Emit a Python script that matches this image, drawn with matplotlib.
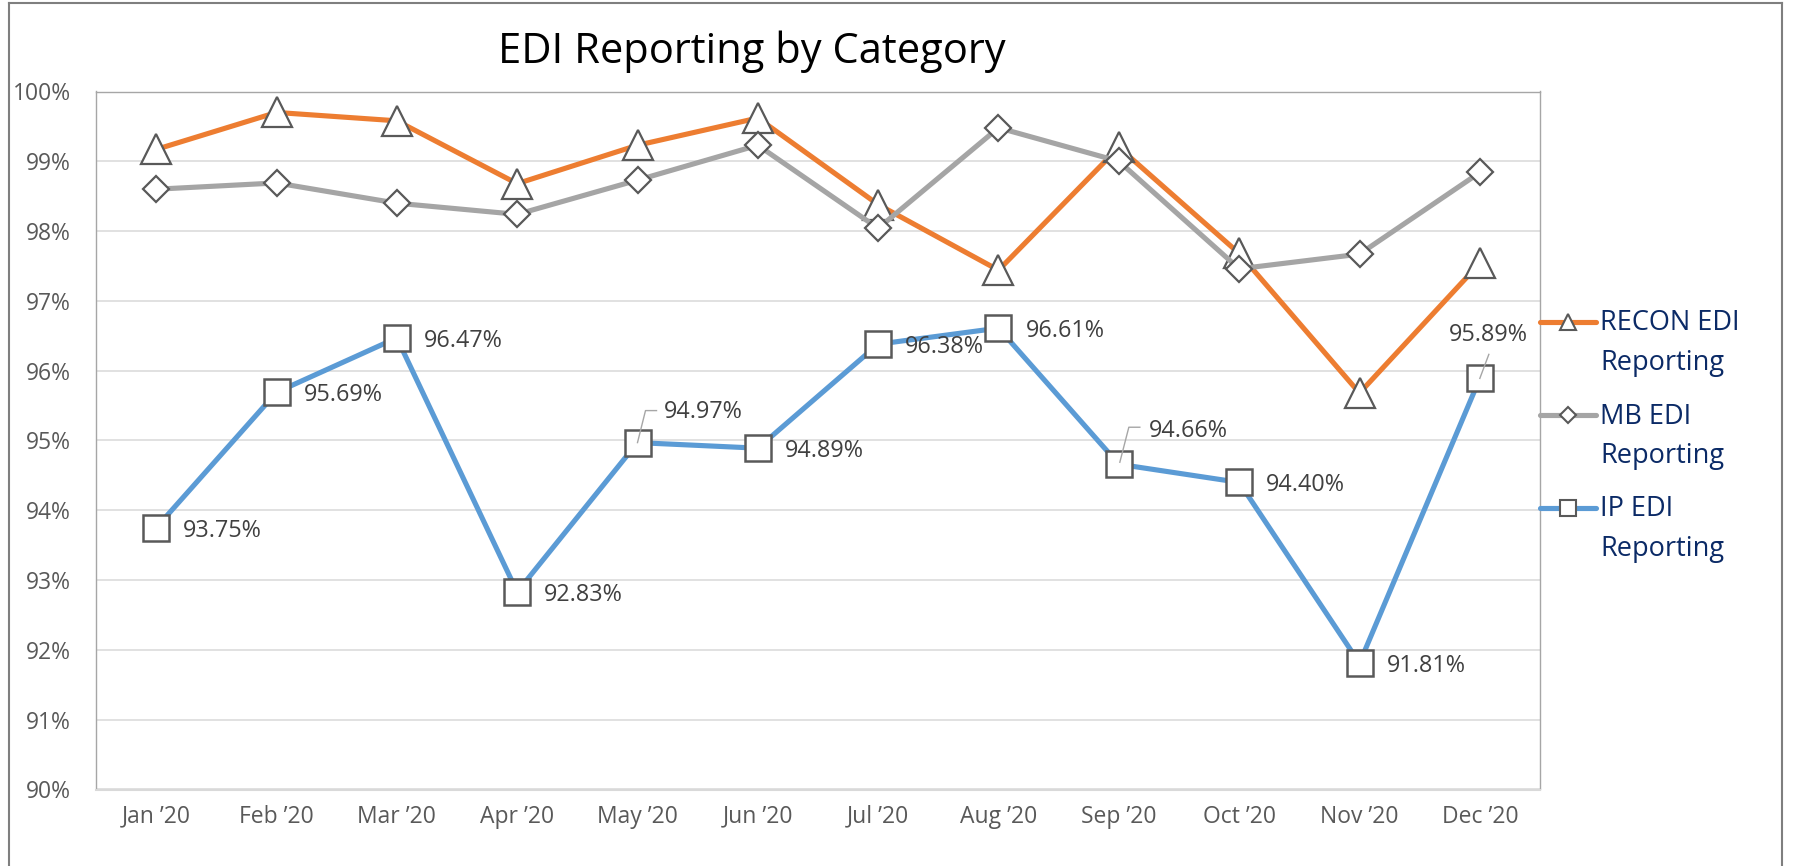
import matplotlib
matplotlib.use('Agg')
import matplotlib.pyplot as plt
from matplotlib.lines import Line2D
from matplotlib.transforms import IdentityTransform

plt.rcParams['font.family'] = ['Open Sans', 'DejaVu Sans']

# ---------------- data ----------------
months = ["Jan \u201920", "Feb \u201920", "Mar \u201920", "Apr \u201920", "May \u201920", "Jun \u201920",
          "Jul \u201920", "Aug \u201920", "Sep \u201920", "Oct \u201920", "Nov \u201920", "Dec \u201920"]
recon = [99.17, 99.70, 99.58, 98.68, 99.23, 99.62, 98.38, 97.44, 99.20, 97.68, 95.68, 97.54]
mb = [98.60, 98.69, 98.40, 98.24, 98.73, 99.23, 98.04, 99.48, 99.00, 97.46, 97.67, 98.84]
ip = [93.75, 95.69, 96.47, 92.83, 94.97, 94.89, 96.38, 96.61, 94.66, 94.40, 91.81, 95.89]
series_names = [["RECON EDI", "Reporting"], ["MB EDI", "Reporting"], ["IP EDI", "Reporting"]]
y_ticks = [90, 91, 92, 93, 94, 95, 96, 97, 98, 99, 100]
title = "EDI Reporting by Category"

# ---------------- styles ----------------
W, H = 1795, 866
C_RECON, C_MB, C_IP = '#ED7D31', '#A5A5A5', '#5B9BD5'
MEC = '#595959'
TICK_C = '#595959'
LABEL_C = '#404040'
LEG_C = '#0B2A66'
LW = 3.7

fig = plt.figure(figsize=(W / 100, H / 100), dpi=100)
fig.patch.set_facecolor('white')

L, R, T, B = 96, 1540, 91.5, 789.5
ax = fig.add_axes([L / W, 1 - B / H, (R - L) / W, (B - T) / H])
x = list(range(len(months)))
ax.set_xlim(-0.5, len(months) - 0.5)
ax.set_ylim(y_ticks[0], y_ticks[-1])
ax.set_yticks(y_ticks)
ax.set_yticklabels([f"{t}%" for t in y_ticks])
ax.set_xticks(x)
ax.set_xticklabels(months)
ax.tick_params(axis='both', length=0, labelsize=16.5, labelcolor=TICK_C)
ax.tick_params(axis='y', pad=18)
ax.tick_params(axis='x', pad=11)
ax.grid(axis='y', color='#D9D9D9', lw=1.1)
ax.set_axisbelow(True)
for s in ['left', 'top', 'right']:
    ax.spines[s].set_color('#A6A6A6')
    ax.spines[s].set_linewidth(1.0)
ax.spines['bottom'].set_color('#D9D9D9')
ax.spines['bottom'].set_linewidth(1.5)

ax.plot(x, recon, color=C_RECON, lw=LW, marker='^', ms=21, mfc='white', mec=MEC, mew=1.6,
        zorder=3, clip_on=False)
ax.plot(x, mb, color=C_MB, lw=LW, marker='D', ms=13.5, mfc='white', mec=MEC, mew=1.6,
        zorder=4, clip_on=False)
ax.plot(x, ip, color=C_IP, lw=LW, marker='s', ms=18.5, mfc='white', mec=MEC, mew=1.8,
        zorder=5, clip_on=False)

# data labels for IP series (offsets in pixels)
special = {
    4: dict(dx=26, dy=31, ha='left', leader=[(0, 0), (8, 32), (19, 32)]),
    8: dict(dx=30, dy=33, ha='left', leader=[(1, 2), (10, 37), (21, 37)]),
    11: dict(dx=9, dy=43, ha='center', leader=[(0, 0), (9, 24)]),
}
for i, v in enumerate(ip):
    cfg = special.get(i, dict(dx=27, dy=-3, ha='left', leader=None))
    ax.annotate(f"{v:.2f}%", xy=(i, v), xytext=(cfg['dx'], cfg['dy']), textcoords='offset pixels',
                ha=cfg['ha'], va='center', fontsize=16.8, color=LABEL_C, zorder=7)
    if cfg['leader']:
        px, py = ax.transData.transform((i, v))
        xs = [px + a for a, b in cfg['leader']]
        ys = [py + b for a, b in cfg['leader']]
        fig.add_artist(Line2D(xs, ys, transform=IdentityTransform(), color='#A6A6A6', lw=1.0,
                              zorder=8))

# title
fig.text(752 / W, 1 - 51.5 / H, title, ha='center', va='center', fontsize=30, color='black')

# legend (manual)
leg_specs = [
    (C_RECON, '^', 12, 321.7),
    (C_MB, 'D', 8.5, 415.0),
    (C_IP, 's', 12, 507.7),
]
for (col, mk, msz, yy), names in zip(leg_specs, series_names):
    fig.add_artist(Line2D([1540 / W, 1596 / W], [1 - yy / H, 1 - yy / H], transform=fig.transFigure,
                          color=col, lw=LW, solid_capstyle='round'))
    fig.add_artist(Line2D([1568 / W], [1 - yy / H], transform=fig.transFigure, marker=mk, ms=msz,
                          mfc='white', mec=MEC, mew=1.5, lw=0))
    fig.text(1600 / W, 1 - (yy + 8.5) / H, names[0], ha='left', va='baseline', fontsize=19.5, color=LEG_C)
    fig.text(1600 / W, 1 - (yy + 48.5) / H, names[1], ha='left', va='baseline', fontsize=19.5, color=LEG_C)

# outer chart border
bc = '#7F7F7F'
fig.add_artist(Line2D([9 / W, 9 / W], [0, 1 - 3 / H], transform=fig.transFigure, color=bc, lw=1.5))
fig.add_artist(Line2D([9 / W, 1782 / W], [1 - 3 / H, 1 - 3 / H], transform=fig.transFigure, color=bc, lw=1.5))
fig.add_artist(Line2D([1782 / W, 1782 / W], [0, 1 - 3 / H], transform=fig.transFigure, color=bc, lw=1.5))

fig.savefig('out.png', dpi=100, facecolor='white')
